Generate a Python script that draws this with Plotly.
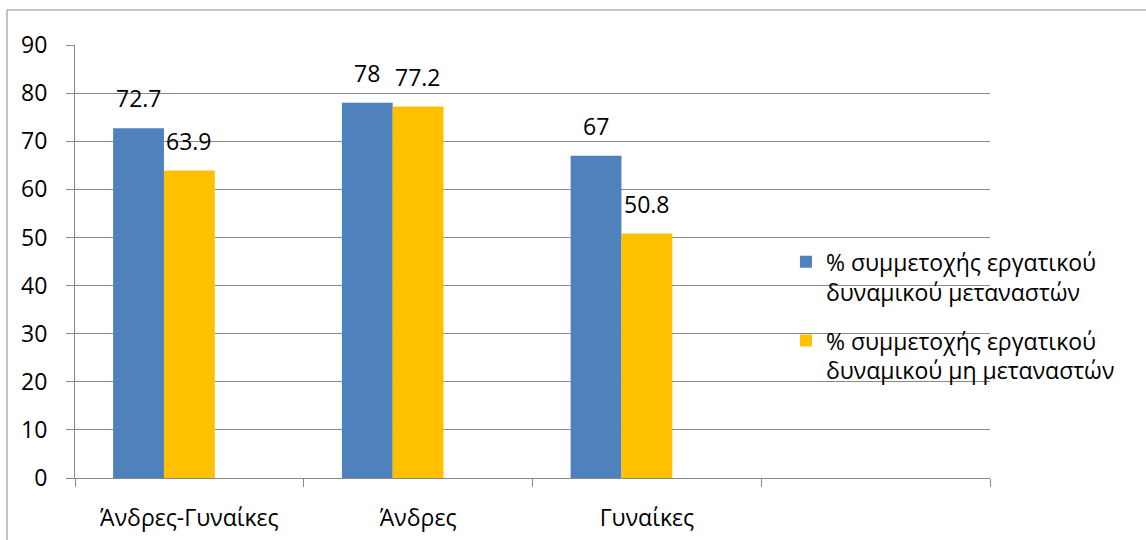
import plotly.graph_objects as go

categories = ["Άνδρες-Γυναίκες", "Άνδρες", "Γυναίκες"]
migrants = [72.7, 78, 67]
non_migrants = [63.9, 77.2, 50.8]
series_names = [
    "% συμμετοχής εργατικού<br>δυναμικού μεταναστών",
    "% συμμετοχής εργατικού<br>δυναμικού μη μεταναστών",
]
y_ticks = [0, 10, 20, 30, 40, 50, 60, 70, 80, 90]

FONT = "Open Sans"
FS = 23
GRID = "#898989"
BARGAP = 1.5 / 4.5
N_SLOTS = 3  # two series + one empty series slot, as in the original chart
x_pos = list(range(len(categories)))
bar_w = (1 - BARGAP) / N_SLOTS

fig = go.Figure()
fig.add_trace(go.Bar(
    x=x_pos, y=migrants, name=series_names[0], legendgroup="a",
    marker=dict(color="#4f81bd", line=dict(width=0)),
))
fig.add_trace(go.Bar(
    x=x_pos, y=non_migrants, name=series_names[1], legendgroup="b",
    marker=dict(color="#ffc000", line=dict(width=0)),
))
fig.add_trace(go.Bar(
    x=x_pos, y=[None] * len(categories), name="", showlegend=False,
    marker=dict(color="rgba(0,0,0,0)"), hoverinfo="skip",
))

# data labels above each bar
annotations = []
for k, vals in enumerate([migrants, non_migrants]):
    offset = (k - (N_SLOTS - 1) / 2) * bar_w
    for xi, v in zip(x_pos, vals):
        annotations.append(dict(
            x=xi + offset, y=v, xref="x", yref="y",
            text=f"{v:g}", showarrow=False,
            xanchor="center", yanchor="bottom", yshift=12,
            font=dict(family=FONT, size=FS, color="black"),
        ))

fig.update_layout(
    width=1146, height=540,
    margin=dict(l=75, r=156, t=45, b=62),
    paper_bgcolor="white", plot_bgcolor="white",
    barmode="group", bargap=BARGAP, bargroupgap=0,
    font=dict(family=FONT, size=FS, color="black"),
    showlegend=True,
    legend=dict(
        x=0.777, y=0.549, xanchor="left", yanchor="top",
        bgcolor="rgba(0,0,0,0)", borderwidth=0,
        font=dict(family=FONT, size=FS, color="black"),
        valign="top", tracegroupgap=16, traceorder="grouped",
    ),
    xaxis=dict(
        range=[-0.5, len(categories) + 0.5],
        tickmode="array", tickvals=x_pos, ticktext=categories,
        ticks="", showgrid=False, zeroline=False,
        showline=True, linecolor=GRID, linewidth=1,
        ticklabelstandoff=19, automargin=False,
        minor=dict(tickmode="linear", tick0=-0.5, dtick=1, ticks="outside",
                   ticklen=8, tickcolor=GRID, tickwidth=1, showgrid=False),
        tickfont=dict(family=FONT, size=FS, color="black"),
        fixedrange=True,
    ),
    yaxis=dict(
        range=[0, 90], tickmode="array", tickvals=y_ticks,
        ticks="outside", ticklen=8, tickcolor=GRID, tickwidth=1,
        showgrid=True, gridcolor=GRID, gridwidth=1,
        zeroline=False, showline=True, linecolor=GRID, linewidth=1,
        ticklabelstandoff=14, automargin=False,
        tickfont=dict(family=FONT, size=FS, color="black"),
        fixedrange=True,
    ),
    annotations=annotations,
    shapes=[dict(
        type="rect", xref="paper", yref="paper",
        x0=(7 - 75) / 915, x1=(1160 - 75) / 915,
        y0=(478 - 560) / 433, y1=(478 - 10) / 433,
        line=dict(color=GRID, width=1), fillcolor="rgba(0,0,0,0)", layer="above",
    )],
)

fig.write_html(
    "out.html",
    config={"displayModeBar": False},
    post_script="document.body.style.margin='0';",
)
